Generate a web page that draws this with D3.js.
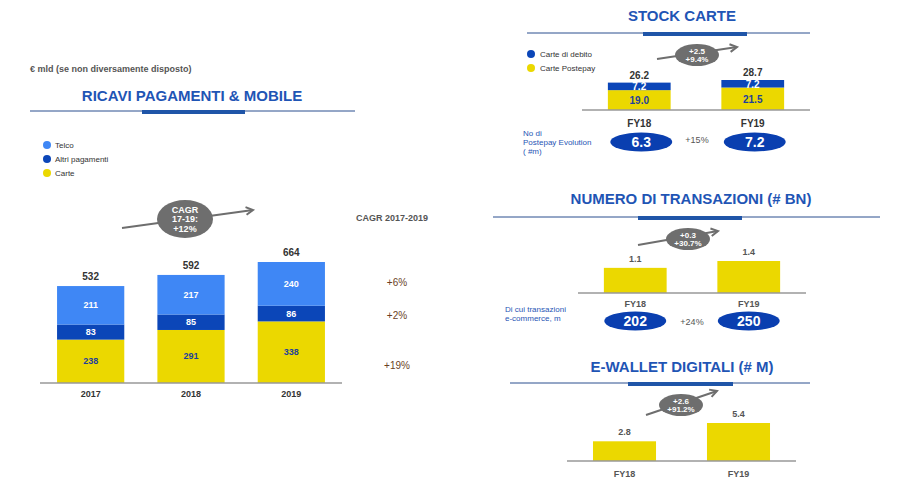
<!DOCTYPE html><html><head><meta charset="utf-8"><script src="https://cdn.jsdelivr.net/npm/d3@7"></script>
<style>body{margin:0;background:#fff}text{font-family:Arial,"Liberation Sans",sans-serif}</style></head><body>
<svg id="c" width="911" height="484"></svg>
<script>
const years=["2017","2018","2019"];
const carte=[238,291,338], altri=[83,85,86], telco=[211,217,240], totals=[532,592,664];
const cagrLabels=["+6%","+2%","+19%"];
const fy=["FY18","FY19"];
const postepay=[19.0,21.5], debito=[7.2,7.2], stockTot=[26.2,28.7], evolution=["6.3","7.2"];
const transazioni=[1.1,1.4], ecommerce=["202","250"];
const ewallet=[2.8,5.4];

const Y="#ebd800",LB="#3f87f5",DB="#0b46b8",BL="#1f55b5",GR="#6e6e6e";
const svg=d3.select("#c");
function t(x,y,s,o={}){return svg.append("text").attr("x",x).attr("y",y).text(s)
 .attr("font-size",o.fs||10).attr("font-weight",o.fw||"bold").attr("fill",o.c||"#333").attr("text-anchor",o.a||"middle");}
function title(cx,y,s,x1,x2,tx1,tx2,ly){t(cx,y,s,{fs:15,c:BL});
 svg.append("line").attr("x1",x1).attr("x2",x2).attr("y1",ly).attr("y2",ly).attr("stroke","#2a4f8f").attr("stroke-width",1);
 svg.append("rect").attr("x",tx1).attr("y",ly-1).attr("width",tx2-tx1).attr("height",4).attr("fill","#1f55a8");}
function arrow(x1,y1,x2,y2,cx,cy,rx,ry,lines,fs){
 svg.append("line").attr("x1",x1).attr("y1",y1).attr("x2",x2).attr("y2",y2).attr("stroke",GR).attr("stroke-width",2);
 const a=Math.atan2(y2-y1,x2-x1),L=8;
 svg.append("path").attr("d",`M${x2-L*Math.cos(a-0.5)},${y2-L*Math.sin(a-0.5)}L${x2},${y2}L${x2-L*Math.cos(a+0.5)},${y2-L*Math.sin(a+0.5)}`).attr("fill","none").attr("stroke",GR).attr("stroke-width",2);
 svg.append("ellipse").attr("cx",cx).attr("cy",cy).attr("rx",rx).attr("ry",ry).attr("fill",GR);
 const n=lines.length;lines.forEach((l,i)=>t(cx,cy+(i-(n-1)/2)*fs*1.05+fs*0.35,l,{fs,c:"#fff"}));}
function pill(cx,cy,s){svg.append("ellipse").attr("cx",cx).attr("cy",cy).attr("rx",31).attr("ry",9.5).attr("fill","#0a3fb0");t(cx,cy+5,s,{fs:14,c:"#fff"});}

// Left
t(30,72,"€ mld (se non diversamente disposto)",{fs:9,c:"#555",a:"start"});
title(192,101,"RICAVI PAGAMENTI & MOBILE",30,355,142,245,111);
[["Telco",LB],["Altri pagamenti",DB],["Carte",Y]].forEach((d,i)=>{svg.append("circle").attr("cx",47).attr("cy",145+i*14).attr("r",4).attr("fill",d[1]);t(55,148+i*14,d[0],{fs:8,fw:"normal",a:"start"});});
const x=d3.scaleBand().domain(years).range([40,342]).paddingInner(0.33).paddingOuter(0.17);
const y=d3.scaleLinear().domain([0,664]).range([383,262]);
const stack=d3.stack().keys(["carte","altri","telco"])(years.map((yr,i)=>({yr,carte:carte[i],altri:altri[i],telco:telco[i]})));
const cols={carte:Y,altri:DB,telco:LB},tc={carte:"#1f3f9a",altri:"#fff",telco:"#fff"};
stack.forEach(s=>s.forEach(d=>{svg.append("rect").attr("x",x(d.data.yr)).attr("width",x.bandwidth()).attr("y",y(d[1])).attr("height",y(d[0])-y(d[1])).attr("fill",cols[s.key]);
 t(x(d.data.yr)+x.bandwidth()/2,(y(d[0])+y(d[1]))/2+3,d.data[s.key],{fs:9,c:tc[s.key]});}));
years.forEach((yr,i)=>{t(x(yr)+x.bandwidth()/2,y(totals[i])-6,totals[i],{fs:10});t(x(yr)+x.bandwidth()/2,397,yr,{fs:9});});
svg.append("line").attr("x1",40).attr("x2",342).attr("y1",383).attr("y2",383).attr("stroke","#999").attr("stroke-width",1.5);
arrow(122,228,253,210,185,219,28,19,["CAGR","17-19:","+12%"],9);
t(392,221,"CAGR 2017-2019",{fs:9,c:"#555"});
[283,316,366].forEach((yy,i)=>t(397,yy+3,cagrLabels[i],{fs:10,fw:"normal",c:"#6b3f1f"}));

// Stock carte
title(682,21,"STOCK CARTE",527,810,643,747,33);
[["Carte di debito",DB],["Carte Postepay",Y]].forEach((d,i)=>{svg.append("circle").attr("cx",531).attr("cy",54+i*14).attr("r",4).attr("fill",d[1]);t(540,57+i*14,d[0],{fs:8,fw:"normal",a:"start"});});
const xs=d3.scaleBand().domain(fy).range([582,810]).paddingInner(0.447).paddingOuter(0.228);
const ys=d3.scaleLinear().domain([0,28.7]).range([110,80]);
fy.forEach((f,i)=>{const bx=xs(f),bw=xs.bandwidth(),cx=bx+bw/2;
 svg.append("rect").attr("x",bx).attr("width",bw).attr("y",ys(postepay[i])).attr("height",ys(0)-ys(postepay[i])).attr("fill",Y);
 svg.append("rect").attr("x",bx).attr("width",bw).attr("y",ys(stockTot[i])).attr("height",ys(postepay[i])-ys(stockTot[i])).attr("fill",DB);
 t(cx,(ys(0)+ys(postepay[i]))/2+4,postepay[i].toFixed(1),{fs:10,c:"#1f3f9a"});
 t(cx,(ys(postepay[i])+ys(stockTot[i]))/2+4,debito[i].toFixed(1),{fs:10,c:"#fff"});
 t(cx,ys(stockTot[i])-4,stockTot[i].toFixed(1),{fs:10});
 t(cx,127,f,{fs:10});pill(cx+2,142,evolution[i]);});
svg.append("line").attr("x1",582).attr("x2",810).attr("y1",110).attr("y2",110).attr("stroke","#999").attr("stroke-width",1.5);
t(697,143,"+15%",{fs:9,fw:"normal",c:"#555"});
["No di","Postepay Evolution","( #m)"].forEach((s,i)=>t(523,136+i*9,s,{fs:8,fw:"normal",c:BL,a:"start"}));
arrow(657,59,737,47,697,55,22,11,["+2.5","+9.4%"],8);

// Numero transazioni
title(691,204,"NUMERO DI TRANSAZIONI (# BN)",493,880,638,742,217);
const xn=d3.scaleBand().domain(fy).range([578,806]).paddingInner(0.447).paddingOuter(0.228);
const yn=d3.scaleLinear().domain([0,1.4]).range([293,261]);
fy.forEach((f,i)=>{const bx=xn(f),bw=xn.bandwidth(),cx=bx+bw/2;
 svg.append("rect").attr("x",bx).attr("width",bw).attr("y",yn(transazioni[i])).attr("height",yn(0)-yn(transazioni[i])).attr("fill",Y);
 t(cx,yn(transazioni[i])-6,transazioni[i].toFixed(1),{fs:9,c:"#555"});
 t(cx,307,f,{fs:9,c:"#555"});pill(cx,321,ecommerce[i]);});
svg.append("line").attr("x1",578).attr("x2",806).attr("y1",293).attr("y2",293).attr("stroke","#999").attr("stroke-width",1.5);
t(692,325,"+24%",{fs:9,fw:"normal",c:"#555"});
["Di cui transazioni","e-commerce, m"].forEach((s,i)=>t(505,312+i*9,s,{fs:8,fw:"normal",c:BL,a:"start"}));
arrow(638,245,718,231,688,239,22,11,["+0.3","+30.7%"],8);

// E-wallet
title(682,372,"E-WALLET DIGITALI (# M)",510,810,628,733,383);
const xe=d3.scaleBand().domain(fy).range([567,796]).paddingInner(0.447).paddingOuter(0.228);
const ye=d3.scaleLinear().domain([0,5.4]).range([461,423]);
fy.forEach((f,i)=>{const bx=xe(f),bw=xe.bandwidth(),cx=bx+bw/2;
 svg.append("rect").attr("x",bx).attr("width",bw).attr("y",ye(ewallet[i])).attr("height",ye(0)-ye(ewallet[i])).attr("fill",Y);
 t(cx,ye(ewallet[i])-6,ewallet[i].toFixed(1),{fs:9,c:"#555"});
 t(cx,477,f,{fs:9,c:"#555"});});
svg.append("line").attr("x1",567).attr("x2",796).attr("y1",461).attr("y2",461).attr("stroke","#999").attr("stroke-width",1.5);
arrow(646,415,717,391,681,405,22,11,["+2.6","+91.2%"],8);
</script></body></html>
